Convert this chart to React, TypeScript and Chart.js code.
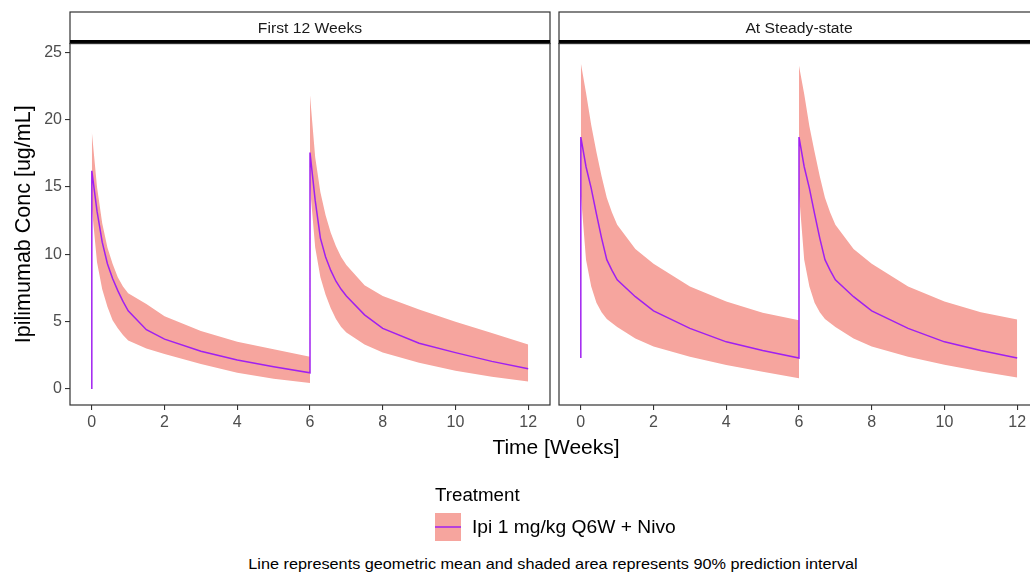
import React, { useEffect, useRef } from "react";
import { Chart, registerables } from "chart.js";

Chart.register(...registerables);

const FONT = '"Liberation Sans", Arial, Helvetica, sans-serif';

// ---- axis ticks & labels ----
const xTicks = [0, 2, 4, 6, 8, 10, 12];
const yTicks = [0, 5, 10, 15, 20, 25];
const panelTitles = ["First 12 Weeks", "At Steady-state"];
const xTitle = "Time [Weeks]";
const yTitle = "Ipilimumab Conc [ug/mL]";
const legendTitle = "Treatment";
const seriesName = "Ipi 1 mg/kg Q6W + Nivo";
const caption = "Line represents geometric mean and shaded area represents 90% prediction interval";

// ---- time grids (weeks) ----
const timeDose1 = [0, 0.143, 0.286, 0.429, 0.571, 0.714, 0.857, 1, 1.5, 2, 3, 4, 5, 6];
const timeDose2 = [6, 6.143, 6.286, 6.429, 6.571, 6.714, 6.857, 7, 7.5, 8, 9, 10, 11, 12];

// ---- Panel 1: First 12 Weeks ----
const first12Predose = 0;
const first12Mean1 = [16.2, 13.2, 10.9, 9.3, 8.2, 7.3, 6.5, 5.8, 4.4, 3.7, 2.8, 2.15, 1.65, 1.2];
const first12Upper1 = [19.1, 15.0, 12.3, 10.5, 9.3, 8.3, 7.6, 7.1, 6.3, 5.4, 4.3, 3.5, 2.95, 2.4];
const first12Lower1 = [13.5, 9.4, 7.4, 6.1, 5.1, 4.5, 4.0, 3.6, 3.0, 2.6, 1.85, 1.2, 0.75, 0.45];
const first12Mean2 = [17.55, 14.0, 11.2, 9.8, 8.8, 8.0, 7.4, 6.9, 5.5, 4.5, 3.4, 2.7, 2.05, 1.5];
const first12Upper2 = [21.8, 17.2, 14.6, 12.9, 11.6, 10.6, 9.8, 9.2, 7.7, 6.9, 5.9, 5.0, 4.15, 3.3];
const first12Lower2 = [15.0, 10.5, 8.3, 7.0, 6.0, 5.2, 4.6, 4.2, 3.3, 2.7, 1.95, 1.35, 0.9, 0.55];

// ---- Panel 2: At Steady-state ----
const ssPredose = 2.3;
const ssMean1 = [18.7, 16.5, 14.9, 13.0, 11.2, 9.6, 8.8, 8.1, 6.85, 5.8, 4.5, 3.5, 2.85, 2.3];
const ssUpper1 = [24.2, 22.0, 19.6, 17.6, 15.8, 14.2, 13.1, 12.2, 10.4, 9.3, 7.6, 6.5, 5.65, 5.1];
const ssLower1 = [14.5, 9.6, 7.6, 6.4, 5.7, 5.2, 4.9, 4.6, 3.75, 3.15, 2.4, 1.78, 1.28, 0.8];
const ssMean2 = [18.7, 16.5, 14.9, 13.0, 11.2, 9.6, 8.8, 8.1, 6.85, 5.8, 4.5, 3.5, 2.85, 2.3];
const ssUpper2 = [24.0, 21.9, 19.5, 17.6, 15.8, 14.2, 13.1, 12.2, 10.4, 9.3, 7.6, 6.5, 5.7, 5.15];
const ssLower2 = [14.5, 9.6, 7.6, 6.4, 5.7, 5.2, 4.9, 4.6, 3.75, 3.15, 2.4, 1.8, 1.3, 0.85];

const RIBBON = "#F6A59E";
const LINE = "#A020F0";

type Panel = {
  title: string;
  predose: number;
  mean1: number[]; upper1: number[]; lower1: number[];
  mean2: number[]; upper2: number[]; lower2: number[];
};

const panels: Panel[] = [
  { title: panelTitles[0], predose: first12Predose, mean1: first12Mean1, upper1: first12Upper1, lower1: first12Lower1, mean2: first12Mean2, upper2: first12Upper2, lower2: first12Lower2 },
  { title: panelTitles[1], predose: ssPredose, mean1: ssMean1, upper1: ssUpper1, lower1: ssLower1, mean2: ssMean2, upper2: ssUpper2, lower2: ssLower2 },
];

const pts = (ts: number[], vs: number[]) => ts.map((t, i) => ({ x: t, y: vs[i] }));

const stripPlugin = {
  id: "facetStrip",
  afterDraw(chart: any, _args: any, opts: any) {
    const { ctx, chartArea: a } = chart;
    const w = a.right - a.left;
    ctx.save();
    ctx.strokeStyle = "#333333";
    ctx.lineWidth = 1.2;
    ctx.strokeRect(a.left, 12, w, a.top - 12);
    ctx.fillStyle = "#000000";
    ctx.fillRect(a.left, 40, w, 3.5);
    ctx.strokeRect(a.left, a.top, w, a.bottom - a.top);
    ctx.fillStyle = "#1a1a1a";
    ctx.font = `14px ${FONT}`;
    ctx.textAlign = "center";
    ctx.textBaseline = "alphabetic";
    ctx.translate((a.left + a.right) / 2, 33);
    ctx.scale(1.12, 1);
    ctx.fillText(opts.title, 0, 0);
    ctx.restore();
  },
};

function buildConfig(p: Panel, showY: boolean, padLeft: number, padRight: number): any {
  const ribbonBase = { borderColor: "rgba(0,0,0,0)", borderWidth: 0, pointRadius: 0, tension: 0, order: 1 };
  return {
    type: "line",
    data: {
      datasets: [
        {
          label: seriesName,
          data: [{ x: timeDose1[0], y: p.predose }, ...pts(timeDose1, p.mean1), ...pts(timeDose2, p.mean2)],
          borderColor: LINE,
          borderWidth: 1.5,
          pointRadius: 0,
          fill: false,
          tension: 0,
          order: 0,
        },
        { ...ribbonBase, label: "upper1", data: pts(timeDose1, p.upper1), fill: "+1", backgroundColor: RIBBON },
        { ...ribbonBase, label: "lower1", data: pts(timeDose1, p.lower1), fill: false },
        { ...ribbonBase, label: "upper2", data: pts(timeDose2, p.upper2), fill: "+1", backgroundColor: RIBBON },
        { ...ribbonBase, label: "lower2", data: pts(timeDose2, p.lower2), fill: false },
      ],
    },
    options: {
      responsive: false,
      animation: false,
      devicePixelRatio: 1,
      events: [],
      layout: { padding: { top: 43.5, left: padLeft, right: padRight, bottom: 0 } },
      plugins: {
        legend: { display: false },
        tooltip: { enabled: false },
        facetStrip: { title: p.title },
      },
      scales: {
        x: {
          type: "linear",
          min: -0.6,
          max: 12.6,
          bounds: "data",
          afterBuildTicks: (s: any) => { s.ticks = xTicks.map((v) => ({ value: v })); },
          afterFit: (s: any) => { s.height = 55; },
          grid: { display: true, drawOnChartArea: false, drawTicks: true, tickLength: 5, color: "#333333", lineWidth: 1.1 },
          border: { display: false },
          ticks: { color: "#4d4d4d", font: { family: FONT, size: 16 }, padding: 3, maxRotation: 0, autoSkip: false },
        },
        y: {
          type: "linear",
          display: showY,
          min: -1.19,
          max: 25.65,
          bounds: "data",
          afterBuildTicks: (s: any) => { s.ticks = yTicks.map((v) => ({ value: v })); },
          afterFit: (s: any) => { s.width = showY ? 70 : 0; },
          grid: { display: true, drawOnChartArea: false, drawTicks: true, tickLength: 5, color: "#333333", lineWidth: 1.1 },
          border: { display: false },
          ticks: { color: "#4d4d4d", font: { family: FONT, size: 16 }, padding: 3 },
          title: { display: true, text: yTitle, color: "#000000", font: { family: FONT, size: 21.5 }, padding: { top: 11, bottom: 0 } },
        },
      },
    },
    plugins: [stripPlugin],
  };
}

function PanelChart({ panel, showY, left, width, padLeft, padRight }: { panel: Panel; showY: boolean; left: number; width: number; padLeft: number; padRight: number }) {
  const ref = useRef<HTMLCanvasElement>(null);
  useEffect(() => {
    const chart = new Chart(ref.current as HTMLCanvasElement, buildConfig(panel, showY, padLeft, padRight));
    return () => chart.destroy();
  }, []);
  return (
    <canvas
      ref={ref}
      width={width}
      height={460}
      style={{ position: "absolute", left, top: 0, width, height: 460 }}
    />
  );
}

const textBase: React.CSSProperties = {
  position: "absolute",
  fontFamily: FONT,
  lineHeight: 1,
  whiteSpace: "nowrap",
  color: "#000",
};

export default function App() {
  return (
    <div style={{ position: "absolute", left: 0, top: 0, width: 1030, height: 573, overflow: "hidden", background: "#fff" }}>
      <PanelChart panel={panels[0]} showY={true} left={0} width={556} padLeft={0} padRight={6} />
      <PanelChart panel={panels[1]} showY={false} left={556} width={490} padLeft={3} padRight={7} />
      <div style={{ ...textBase, left: 556, top: 435.5, fontSize: 21, transform: "translateX(-50%)" }}>{xTitle}</div>
      <div style={{ ...textBase, left: 435, top: 487, fontSize: 17.5, transform: "scaleX(1.07)", transformOrigin: "0 0" }}>{legendTitle}</div>
      <div style={{ position: "absolute", left: 435, top: 513, width: 26, height: 28, background: RIBBON }}>
        <div style={{ position: "absolute", left: 0, top: 13, width: 26, height: 2, background: LINE, opacity: 0.75 }} />
      </div>
      <div style={{ ...textBase, left: 471.5, top: 518.5, fontSize: 17.5, transform: "scaleX(1.1)", transformOrigin: "0 0" }}>{seriesName}</div>
      <div style={{ ...textBase, left: 552.5, top: 557, fontSize: 14.5, transform: "translateX(-50%) scaleX(1.12)" }}>{caption}</div>
    </div>
  );
}
